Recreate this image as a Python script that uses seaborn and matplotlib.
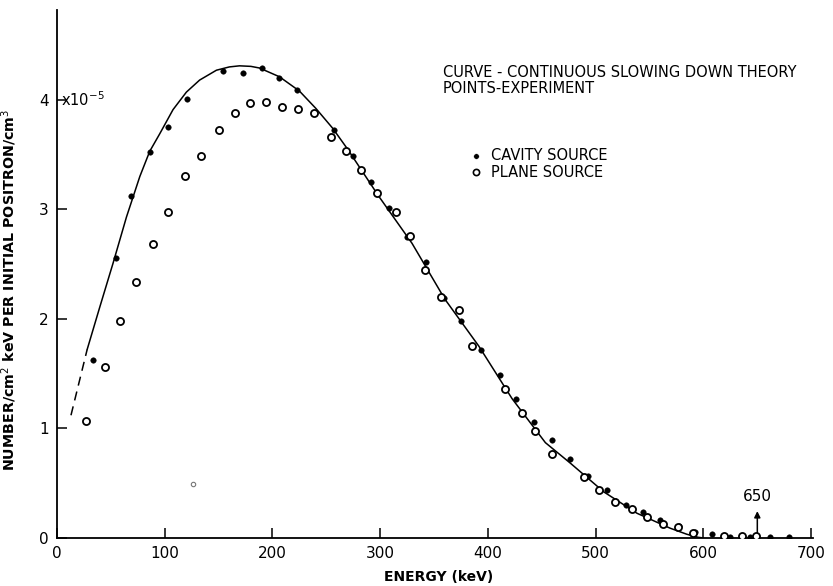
import numpy as np
import pandas as pd
import seaborn as sns
import matplotlib
matplotlib.use("Agg")
import matplotlib.pyplot as plt

# theory curve
curve_x = [28, 39.8, 52.1, 64.5, 76.9, 86.1, 95.4, 107.7, 120.1, 132.4, 148, 160,
           169.4, 180, 188, 206.5, 225, 240.4, 255.9, 269.7, 298.6, 329.5, 360,
           391.6, 422.5, 453.3, 476.8, 507.6, 538.4, 569.1, 584.5, 595, 600]
curve_y = [1.72, 2.11, 2.51, 2.93, 3.30, 3.53, 3.69, 3.91, 4.07, 4.18, 4.27, 4.30,
           4.31, 4.305, 4.29, 4.21, 4.08, 3.92, 3.74, 3.55, 3.12, 2.69, 2.18,
           1.75, 1.27, 0.87, 0.68, 0.42, 0.225, 0.089, 0.034, 0.006, 0.0]
dash_x = [13, 28]
dash_y = [1.12, 1.72]

# cavity source (filled)
cav_x = [33, 54.5, 68.3, 85.9, 103.1, 120.7, 154.2, 172.9, 190, 206.5, 222.8, 257.3,
         275.2, 291.8, 308.1, 325.3, 342.9, 359.2, 375.4, 393.6, 411.2, 426.3, 443.2,
         459, 476.1, 493.1, 510.3, 518, 528.2, 543.9, 559.6, 577.7, 591.9, 607.9,
         625.1, 643.3, 661.4, 679.3]
cav_y = [1.62, 2.56, 3.12, 3.52, 3.75, 4.01, 4.26, 4.24, 4.29, 4.20, 4.09, 3.72,
         3.49, 3.25, 3.01, 2.75, 2.52, 2.19, 1.98, 1.72, 1.49, 1.27, 1.06,
         0.895, 0.72, 0.57, 0.435, 0.335, 0.30, 0.24, 0.16, 0.11, 0.058, 0.04,
         0.012, 0.006, 0.012, 0.012]

# plane source (open)
pl_x = [26.5, 44.3, 58.8, 73.6, 89, 103.4, 118.8, 133.9, 150.2, 165, 179.1, 193.9,
        208.9, 223.7, 238.9, 254, 268.1, 281.9, 297, 314.2, 327.4, 341.9, 356.1,
        372.7, 385.6, 415.8, 431.2, 443.8, 459.2, 489, 503.2, 518, 534, 547.8,
        562.3, 576.2, 590, 618.9, 635.8, 649.1]
pl_y = [1.07, 1.56, 1.98, 2.34, 2.68, 2.98, 3.30, 3.49, 3.72, 3.88, 3.97, 3.98,
        3.93, 3.92, 3.88, 3.66, 3.53, 3.36, 3.15, 2.98, 2.76, 2.45, 2.20,
        2.08, 1.75, 1.36, 1.14, 0.98, 0.77, 0.557, 0.44, 0.33, 0.26, 0.19,
        0.128, 0.098, 0.043, 0.021, 0.016, 0.016]

# stray mark on the original
stray_x = [125.9]
stray_y = [0.49]

x_ticks = [0, 100, 200, 300, 400, 500, 600, 700]
y_ticks = [0, 1, 2, 3, 4]

sns.set_style("ticks", rc={"text.color": "black", "axes.labelcolor": "black",
                           "xtick.color": "black", "ytick.color": "black",
                           "axes.edgecolor": "black"})
plt.rcParams['font.family'] = ['DejaVu Sans']

fig = plt.figure(figsize=(8.33, 5.86), dpi=100)
ax = fig.add_axes([0.0684, 0.082, 0.908, 0.901])

sns.lineplot(x=curve_x, y=curve_y, color="black", linewidth=1.1, sort=False, ax=ax)
ax.plot(dash_x, dash_y, color="black", linewidth=1.1, dashes=(6, 4))
sns.scatterplot(x=cav_x, y=cav_y, color="black", s=16, edgecolor="black",
                linewidth=0.3, ax=ax, zorder=3)
sns.scatterplot(x=pl_x, y=pl_y, facecolor="white", edgecolor="black", s=26,
                linewidth=1.3, ax=ax, zorder=4)
sns.scatterplot(x=stray_x, y=stray_y, facecolor="white", edgecolor="#777777", s=10,
                linewidth=0.8, ax=ax, zorder=4)

ax.set_xlim(0, 702)
ax.set_ylim(0, 4.82)
ax.set_xticks(x_ticks)
ax.set_yticks(y_ticks)
ax.tick_params(direction="in", length=7, width=1.1, labelsize=11, pad=6,
               colors="black")
sns.despine(ax=ax)
for s in ["left", "bottom"]:
    ax.spines[s].set_linewidth(1.3)
    ax.spines[s].set_color("black")

ax.text(4, 4.0, r"x10$^{-5}$", fontsize=10.5, va="center", ha="left", color="black")

ax.set_xlabel("ENERGY (keV)", fontsize=10, fontweight="bold", color="black")
ax.xaxis.set_label_coords(0.505, -0.06)
ax.set_ylabel("NUMBER/cm$^2$ keV PER INITIAL POSITRON/cm$^3$", fontsize=10.3,
              fontweight="bold", color="black")
ax.yaxis.set_label_coords(-0.05, 0.47)

ax.text(358, 4.25, "CURVE - CONTINUOUS SLOWING DOWN THEORY", fontsize=10.5,
        va="center", color="black")
ax.text(358, 4.10, "POINTS-EXPERIMENT", fontsize=10.5, va="center", color="black")
sns.scatterplot(x=[389], y=[3.49], color="black", s=16, ax=ax)
sns.scatterplot(x=[389], y=[3.34], facecolor="white", edgecolor="black", s=20,
                linewidth=1.2, ax=ax)
ax.text(403, 3.49, "CAVITY SOURCE", fontsize=10.5, va="center", color="black")
ax.text(403, 3.34, "PLANE SOURCE", fontsize=10.5, va="center", color="black")

ax.annotate("", xy=(650, 0.27), xytext=(650, 0.0),
            arrowprops=dict(arrowstyle="-|>", color="black", lw=1.1, mutation_scale=9))
ax.text(650, 0.31, "650", fontsize=11, ha="center", va="bottom", color="black")

fig.savefig("out.png", dpi=100)
